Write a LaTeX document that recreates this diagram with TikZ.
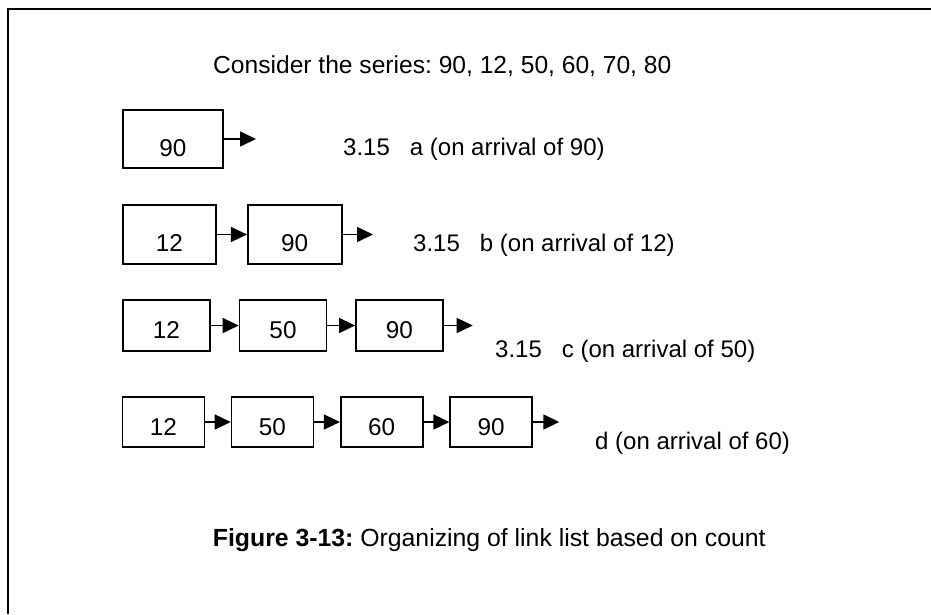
\documentclass[tikz,border=0pt]{standalone}
\usepackage{fontspec}
\setmainfont{Liberation Sans}
\usetikzlibrary{arrows.meta}
\frenchspacing
\begin{document}
\begin{tikzpicture}[x=1pt,y=-1pt,
  cell/.style={draw, line width=1.6pt, inner sep=0pt, text depth=0pt,
    font=\fontsize{24.3}{29}\selectfont},
  link/.style={line width=1.6pt, -{Triangle[length=16pt,width=15pt]}},
  txt/.style={font=\fontsize{24}{29}\selectfont, anchor=base west, inner sep=0pt}]
\useasboundingbox (0,0) rectangle (931,614);
% frame
\draw[line width=1.8pt] (8,614) |- (931,9);

% heading
\node[txt, font=\fontsize{24.6}{29}\selectfont] (title) at (213,73) {Consider the series: 90, 12, 50, 60, 70, 80};

% row a
\node[cell, minimum width=100pt, minimum height=58pt, text height=35pt] (a1) at (173,139) {90};
\coordinate (aend) at (256,139);
\draw[link] (a1.east) -- (aend);
\node[txt] (la) at (343,155) {3.15\hspace{20pt}a (on arrival of 90)};

% row b
\node[cell, minimum width=93pt, minimum height=59pt, text height=34pt] (b1) at (169.5,234.5) {12};
\node[cell, minimum width=94pt, minimum height=59pt, text height=34pt] (b2) at (294.7,234.5) {90};
\coordinate (bend) at (373,234.5);
\draw[link] (b1.east) -- (b2.west);
\draw[link] (b2.east) -- (bend);
\node[txt] (lb) at (413,251) {3.15\hspace{20pt}b (on arrival of 12)};

% row c
\node[cell, minimum width=87pt, minimum height=51pt, text height=25.6pt] (c1) at (166.4,325.5) {12};
\node[cell, minimum width=87pt, minimum height=51pt, text height=25.6pt] (c2) at (283,325.5) {50};
\node[cell, minimum width=87pt, minimum height=51pt, text height=25.6pt] (c3) at (399.4,325.5) {90};
\coordinate (cend) at (472.7,325.5);
\draw[link] (c1.east) -- (c2.west);
\draw[link] (c2.east) -- (c3.west);
\draw[link] (c3.east) -- (cend);
\node[txt] (lc) at (495,357) {3.15\hspace{20pt}c (on arrival of 50)};

% row d
\node[cell, minimum width=82pt, minimum height=50pt, text height=26pt] (d1) at (163.5,422) {12};
\node[cell, minimum width=82pt, minimum height=50pt, text height=26pt] (d2) at (272.5,422) {50};
\node[cell, minimum width=82pt, minimum height=50pt, text height=26pt] (d3) at (381.7,422) {60};
\node[cell, minimum width=82pt, minimum height=50pt, text height=26pt] (d4) at (491.2,422) {90};
\coordinate (dend) at (559.3,422);
\draw[link] (d1.east) -- (d2.west);
\draw[link] (d2.east) -- (d3.west);
\draw[link] (d3.east) -- (d4.west);
\draw[link] (d4.east) -- (dend);
\node[txt] (ld) at (595,449) {d (on arrival of 60)};

% caption
\node[txt, font=\fontsize{24.8}{29}\selectfont] (cap) at (212.7,546.7) {\textbf{Figure 3-13:} Organizing of link list based on count};
\end{tikzpicture}
\end{document}
